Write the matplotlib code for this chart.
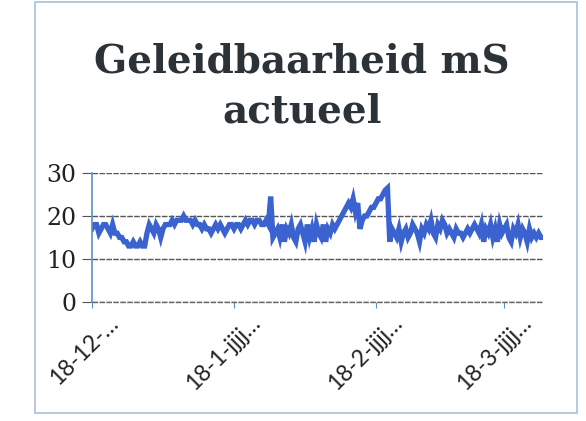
import datetime as dt
import matplotlib
matplotlib.use("Agg")
import matplotlib.pyplot as plt
import matplotlib.transforms as mtransforms
from matplotlib.patches import Rectangle

# readings every half day, starting 18 December
start = dt.datetime(2017, 12, 18)
values = [
    17, 18, 18, 16, 17, 18, 18, 17, 16, 18,
    16, 16, 15, 15, 14, 14,
    13, 13, 14, 13, 13, 14, 13, 13,
    16, 18,
    17, 16, 18, 17, 15, 17, 18, 18,
    18, 19, 18, 19, 19, 19, 20, 19, 19, 19, 18, 19,
    18, 18, 17, 18, 17, 17, 16, 17, 18, 17, 18, 17, 16, 17, 18, 18, 17, 18, 18, 17,
    18, 19, 18, 19, 19, 18, 19, 19, 18, 18, 19, 18,
    24.5, 15,
    16, 17, 15, 18, 14, 17, 16, 18, 15, 14, 17, 18, 16, 14, 18, 15, 17, 14, 18, 16,
    15, 18, 14, 17, 16, 18,
    17, 18, 19, 20, 21, 22,
    23, 22, 24, 21, 23, 17,
    19, 20, 20, 21, 22, 22, 23, 24, 24, 25, 26, 26.5,
    14, 17,
    16, 15, 17, 14, 16, 17, 15, 16, 18, 17, 16, 14, 17, 16, 18, 17, 19, 16, 15, 18,
    17, 19, 18, 16, 17, 16, 15, 17, 16, 16, 15, 16, 17, 16, 17, 18, 17, 16, 18, 14,
    17, 16, 18, 15, 17, 14, 18, 16, 17, 18, 15, 14, 17, 16, 18, 15, 17, 16, 14, 17,
    15, 16, 15, 16, 15, 15,
]
times = [start + dt.timedelta(hours=12 * i) for i in range(len(values))]

tick_dates = [dt.datetime(2017, 12, 18), dt.datetime(2018, 1, 18),
              dt.datetime(2018, 2, 18), dt.datetime(2018, 3, 18)]
tick_labels = ["18-12-\u2026", "18-1-jjjj\u2026", "18-2-jjjj\u2026", "18-3-jjjj\u2026"]
y_ticks = [0, 10, 20, 30]

fig = plt.figure(figsize=(5.86, 4.21), dpi=100)
fig.patch.set_facecolor("white")

# outer chart frame
fig.patches.append(Rectangle((0.06, 0.02), 0.925, 0.975, transform=fig.transFigure,
                             fill=False, edgecolor="#a9bfd6", linewidth=1.2))

ax = fig.add_axes([0.157, 0.283, 0.77, 0.306])
ax.plot(times, values, color="#3a63cf", linewidth=3.8, solid_joinstyle="miter")

ax.set_ylim(0, 30)
ax.set_xlim(start, start + dt.timedelta(days=98.5))
ax.set_yticks(y_ticks)
ax.set_xticks(tick_dates)
ax.set_xticklabels(tick_labels)

ax.grid(axis="y", color="#555555", linewidth=1.0, linestyle=(0, (4, 1)))
ax.axhline(0, color="#666666", linewidth=1.0, linestyle=(0, (4, 1)), clip_on=False, zorder=1)
ax.set_axisbelow(True)
for side in ["top", "right", "bottom"]:
    ax.spines[side].set_visible(False)
ax.spines["left"].set_color("#5b8fd0")
ax.spines["left"].set_linewidth(1.2)

ax.tick_params(axis="y", length=7, color="#555555", pad=4, labelsize=17)
ax.tick_params(axis="x", length=4, color="#5b8fd0", direction="out", labelsize=16.5)
for lab in ax.get_yticklabels():
    lab.set_fontfamily("DejaVu Serif")
    lab.set_color("#222222")

offset = mtransforms.ScaledTranslation(16 / 100, 0, fig.dpi_scale_trans)
for lab in ax.get_xticklabels():
    lab.set_fontfamily("Lato")
    lab.set_rotation(45)
    lab.set_ha("right")
    lab.set_rotation_mode("anchor")
    lab.set_color("#222222")
    lab.set_transform(lab.get_transform() + offset)

fig.text(0.515, 0.795, "Geleidbaarheid mS\nactueel", ha="center", va="center",
         fontsize=28, fontweight="bold", family="DejaVu Serif", color="#2b3238",
         linespacing=1.38)

fig.savefig("out.png", dpi=100, facecolor="white")
